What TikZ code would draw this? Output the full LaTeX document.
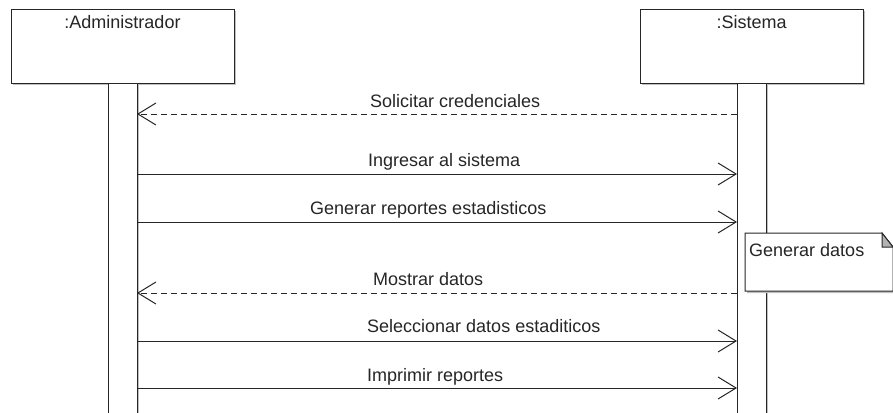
\documentclass[tikz,border=0pt]{standalone}
\usepackage{fontspec}
\setmainfont{Liberation Sans}
\usetikzlibrary{arrows.meta,shadows}
\begin{document}
\begin{tikzpicture}[x=1pt,y=-1pt,
  every node/.style={font=\fontsize{18}{20}\selectfont, text=black!85},
  head/.style={draw=black!85, line width=1pt, fill=white, rectangle, minimum width=223pt, minimum height=74pt, anchor=north west, inner sep=0pt,
    drop shadow={shadow xshift=1.5pt, shadow yshift=-1.5pt, fill=black!25, opacity=1}},
  bar/.style={draw=black!85, line width=1.2pt, fill=white, rectangle, anchor=north west, minimum width=29pt, minimum height=340pt, inner sep=0pt,
    drop shadow={shadow xshift=1.5pt, shadow yshift=0pt, fill=black!25, opacity=1}},
  lbl/.style={anchor=base west, inner sep=0pt},
  msg/.style={draw=black!85, line width=1pt, -{Straight Barb[length=18pt,width=22pt,line width=1pt]}},
  ret/.style={msg, dash pattern=on 6pt off 4pt}
]
\useasboundingbox (0,0) rectangle (893,412);
\clip (0,0) rectangle (893,412);
\fill[white] (0,0) rectangle (893,412);

% lifeline heads
\node[head] (admin) at (11,9) {};
\node[head] (sist) at (640,9) {};
\node[anchor=base] (adminT) at (122.5,29) {:Administrador};
\node[anchor=base] (sistT) at (751.5,29) {:Sistema};

% activation bars
\node[bar] (abar) at (108,83) {};
\node[bar] (sbar) at (737,83) {};

% note
\fill[black!25] (747,235) -- (882,235) -- (895,248) -- (895,293) -- (747,293) -- cycle;
\draw[black!85, line width=1pt, fill=white] (745,233) -- (882,233) -- (893,247) -- (893,291) -- (745,291) -- cycle;
\draw[black!85, line width=1pt, fill=black!30] (882,233) -- (882,247) -- (893,247) -- cycle;
\node[lbl] (note) at (749,256) {Generar datos};

% message end points
\coordinate (s1) at (737,114); \coordinate (a1) at (137,114);
\coordinate (a2) at (137,174); \coordinate (s2) at (737,174);
\coordinate (a3) at (137,222); \coordinate (s3) at (737,222);
\coordinate (s4) at (737,293); \coordinate (a4) at (137,293);
\coordinate (a5) at (137,341); \coordinate (s5) at (737,341);
\coordinate (a6) at (137,388); \coordinate (s6) at (737,388);

\draw[ret] (s1) -- (a1);
\draw[msg] (a2) -- (s2);
\draw[msg] (a3) -- (s3);
\draw[ret] (s4) -- (a4);
\draw[msg] (a5) -- (s5);
\draw[msg] (a6) -- (s6);

\node[lbl] (l1) at (370,107) {Solicitar credenciales};
\node[lbl] (l2) at (368,166) {Ingresar al sistema};
\node[lbl] (l3) at (310,214) {Generar reportes estadisticos};
\node[lbl] (l4) at (373,285) {Mostrar datos};
\node[lbl] (l5) at (367,332) {Seleccionar datos estaditicos};
\node[lbl] (l6) at (367,381) {Imprimir reportes};
\end{tikzpicture}
\end{document}
